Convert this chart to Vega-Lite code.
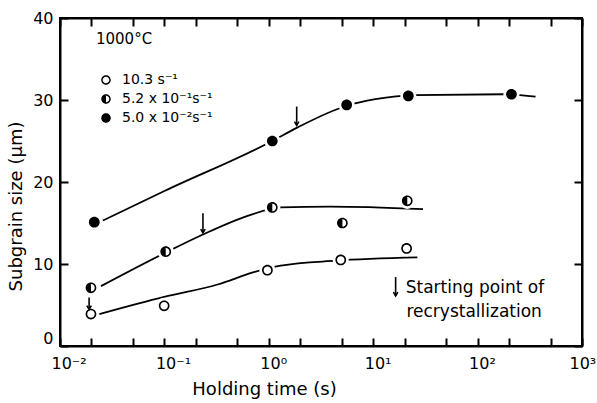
{
  "$schema": "https://vega.github.io/schema/vega-lite/v6.json",
  "width": 522,
  "height": 328,
  "autosize": "none",
  "padding": {"left": 60, "top": 18, "right": 15, "bottom": 57},
  "background": "white",
  "config": {
    "view": {"stroke": "black", "strokeWidth": 2},
    "font": "DejaVu Sans",
    "axis": {"gridOpacity": 0, "domainColor": "black", "domainWidth": 2, "labelColor": "black", "titleColor": "black", "labelFont": "DejaVu Sans", "titleFont": "DejaVu Sans", "titleFontWeight": "normal"}
  },
  "datasets": {
    "pts": [
      {"rate": "10.3 s⁻¹", "t": 0.0198, "d": 3.9},
      {"rate": "10.3 s⁻¹", "t": 0.0995, "d": 4.9},
      {"rate": "10.3 s⁻¹", "t": 0.97, "d": 9.25},
      {"rate": "10.3 s⁻¹", "t": 4.89, "d": 10.5},
      {"rate": "10.3 s⁻¹", "t": 20.9, "d": 11.9},
      {"rate": "5.2 x 10⁻¹s⁻¹", "t": 0.0198, "d": 7.1},
      {"rate": "5.2 x 10⁻¹s⁻¹", "t": 0.103, "d": 11.5},
      {"rate": "5.2 x 10⁻¹s⁻¹", "t": 1.08, "d": 16.9},
      {"rate": "5.2 x 10⁻¹s⁻¹", "t": 5.07, "d": 15.0},
      {"rate": "5.2 x 10⁻¹s⁻¹", "t": 21.2, "d": 17.7},
      {"rate": "5.0 x 10⁻²s⁻¹", "t": 0.0213, "d": 15.1},
      {"rate": "5.0 x 10⁻²s⁻¹", "t": 1.08, "d": 25.0},
      {"rate": "5.0 x 10⁻²s⁻¹", "t": 5.57, "d": 29.4},
      {"rate": "5.0 x 10⁻²s⁻¹", "t": 21.7, "d": 30.5},
      {"rate": "5.0 x 10⁻²s⁻¹", "t": 211, "d": 30.7}
    ],
    "curves": [
      {"c": "open", "t": 0.0238, "d": 3.9},
      {"c": "open", "t": 0.0995, "d": 6.0},
      {"c": "open", "t": 0.323, "d": 7.5},
      {"c": "open", "t": 0.72, "d": 9.0},
      {"c": "open", "t": 1.3, "d": 9.8},
      {"c": "open", "t": 4.37, "d": 10.4},
      {"c": "open", "t": 26.5, "d": 10.8},
      {"c": "half", "t": 0.0247, "d": 7.3},
      {"c": "half", "t": 0.103, "d": 11.4},
      {"c": "half", "t": 0.234, "d": 13.6},
      {"c": "half", "t": 0.67, "d": 16.0},
      {"c": "half", "t": 1.3, "d": 16.9},
      {"c": "half", "t": 3.9, "d": 17.0},
      {"c": "half", "t": 30, "d": 16.7},
      {"c": "full", "t": 0.0257, "d": 15.3},
      {"c": "full", "t": 0.1, "d": 18.9},
      {"c": "full", "t": 1.08, "d": 25.0},
      {"c": "full", "t": 1.85, "d": 26.6},
      {"c": "full", "t": 5.57, "d": 29.3},
      {"c": "full", "t": 10.5, "d": 30.1},
      {"c": "full", "t": 25, "d": 30.6},
      {"c": "full", "t": 180, "d": 30.7},
      {"c": "full", "t": 359, "d": 30.4}
    ],
    "arrows": [
      {"t": 0.019, "top": 5.9, "tip": 4.45},
      {"t": 0.234, "top": 16.2, "tip": 13.8},
      {"t": 1.85, "top": 29.2, "tip": 26.9},
      {"t": 16.4, "top": 8.4, "tip": 6.1}
    ],
    "notes1": [
      {"t": 0.0221, "d": 37.4, "txt": "1000°C"}
    ],
    "notes2": [
      {"t": 20.5, "d": 7.1, "txt": "Starting point of"},
      {"t": 20.8, "d": 4.2, "txt": "recrystallization"}
    ]
  },
  "resolve": {"axis": {"x": "independent", "y": "independent"}},
  "layer": [
    {
      "data": {"name": "curves"},
      "mark": {"type": "line", "interpolate": "monotone", "color": "black", "strokeWidth": 1.8},
      "encoding": {
        "x": {"field": "t", "type": "quantitative",
          "scale": {"type": "log", "domain": [0.01, 1000], "nice": false},
          "axis": {"orient": "bottom", "title": "Holding time (s)", "values": [0.01,0.02,0.05,0.1,0.2,0.5,1,2,5,10,20,50,100,200,500,1000],
            "ticks": true, "tickColor": "black", "tickSize": -8, "tickWidth": 2,
            "labelExpr": "datum.value==0.01?'10⁻²':datum.value==0.1?'10⁻¹':datum.value==1?'10⁰':datum.value==10?'10¹':datum.value==100?'10²':datum.value==1000?'10³':''",
            "labelFontSize": 16, "labelPadding": 17, "labelFlush": false, "labelOverlap": false, "labelAlign": "left",
            "labelOffset": {"condition": {"test": "datum.value==1000", "value": -13}, "value": -9},
            "titleFontSize": 18, "titleX": 204, "titleY": 43, "titleBaseline": "middle", "titleAlign": "center"}},
        "y": {"field": "d", "type": "quantitative",
          "scale": {"domain": [0, 40], "nice": false},
          "axis": {"orient": "left", "title": "Subgrain size (μm)", "values": [0,10,20,30,40],
            "ticks": true, "tickColor": "black", "tickSize": -8, "tickWidth": 2,
            "labelFontSize": 16, "labelPadding": 15, "labelFlush": false,
            "labelBaseline": {"condition": {"test": "datum.value==0", "value": "bottom"}, "value": "middle"},
            "titleFontSize": 18, "titleX": -44, "titleY": 188, "titleBaseline": "middle", "titleAlign": "center", "titleAngle": -90}},
        "detail": {"field": "c"}
      }
    },
    {
      "data": {"name": "pts"},
      "mark": {"type": "point", "filled": true, "color": "white", "opacity": 1, "shape": "circle", "size": 260},
      "encoding": {
        "x": {"field": "t", "type": "quantitative", "scale": {"type": "log", "domain": [0.01, 1000], "nice": false},
          "axis": {"orient": "top", "labels": false, "title": null, "ticks": true, "tickColor": "black", "tickSize": -8, "tickWidth": 2, "values": [0.01,0.02,0.05,0.1,0.2,0.5,1,2,5,10,20,50,100,200,500,1000]}},
        "y": {"field": "d", "type": "quantitative", "scale": {"domain": [0, 40], "nice": false},
          "axis": {"orient": "right", "labels": false, "title": null, "ticks": true, "tickColor": "black", "tickSize": -8, "tickWidth": 2, "values": [0,10,20,30,40]}}
      }
    },
    {
      "data": {"name": "pts"},
      "mark": {"type": "point", "filled": true, "color": "black", "opacity": 1, "size": 115},
      "encoding": {
        "x": {"field": "t", "type": "quantitative", "axis": null},
        "y": {"field": "d", "type": "quantitative", "axis": null},
        "shape": {"field": "rate", "type": "nominal",
          "scale": {"domain": ["10.3 s⁻¹", "5.2 x 10⁻¹s⁻¹", "5.0 x 10⁻²s⁻¹"],
            "range": [
              "M1,0A1,1,0,1,1,-1,0A1,1,0,1,1,1,0ZM0.7,0A0.7,0.7,0,1,0,-0.7,0A0.7,0.7,0,1,0,0.7,0Z",
              "M1,0A1,1,0,1,1,-1,0A1,1,0,1,1,1,0ZM0.7,0A0.7,0.7,0,1,0,-0.7,0A0.7,0.7,0,1,0,0.7,0ZM0,0.8A0.8,0.8,0,0,1,0,-0.8Z",
              "M1,0A1,1,0,1,1,-1,0A1,1,0,1,1,1,0Z"
            ]},
          "legend": {"orient": "none", "legendX": 39, "legendY": 55, "title": null, "padding": 0, "symbolSize": 90, "symbolFillColor": "black", "symbolStrokeWidth": 0, "labelFontSize": 14, "labelOffset": 9, "labelColor": "black", "labelFont": "DejaVu Sans", "rowPadding": 5}
        }
      }
    },
    {
      "data": {"name": "arrows"},
      "mark": {"type": "rule", "color": "black", "strokeWidth": 1.6},
      "encoding": {
        "x": {"field": "t", "type": "quantitative", "axis": null},
        "y": {"field": "top", "type": "quantitative", "axis": null},
        "y2": {"field": "tip"}
      }
    },
    {
      "data": {"name": "arrows"},
      "mark": {"type": "point", "shape": "M-0.7,-1.2L0,0L0.7,-1.2", "filled": false, "color": "black", "strokeWidth": 1.6, "opacity": 1, "size": 40},
      "encoding": {
        "x": {"field": "t", "type": "quantitative", "axis": null},
        "y": {"field": "tip", "type": "quantitative", "axis": null}
      }
    },
    {
      "data": {"name": "notes1"},
      "mark": {"type": "text", "align": "left", "baseline": "middle", "fontSize": 15, "color": "black", "font": "DejaVu Sans"},
      "encoding": {
        "x": {"field": "t", "type": "quantitative", "axis": null},
        "y": {"field": "d", "type": "quantitative", "axis": null},
        "text": {"field": "txt"}
      }
    },
    {
      "data": {"name": "notes2"},
      "mark": {"type": "text", "align": "left", "baseline": "middle", "fontSize": 17, "color": "black", "font": "DejaVu Sans"},
      "encoding": {
        "x": {"field": "t", "type": "quantitative", "axis": null},
        "y": {"field": "d", "type": "quantitative", "axis": null},
        "text": {"field": "txt"}
      }
    }
  ]
}
